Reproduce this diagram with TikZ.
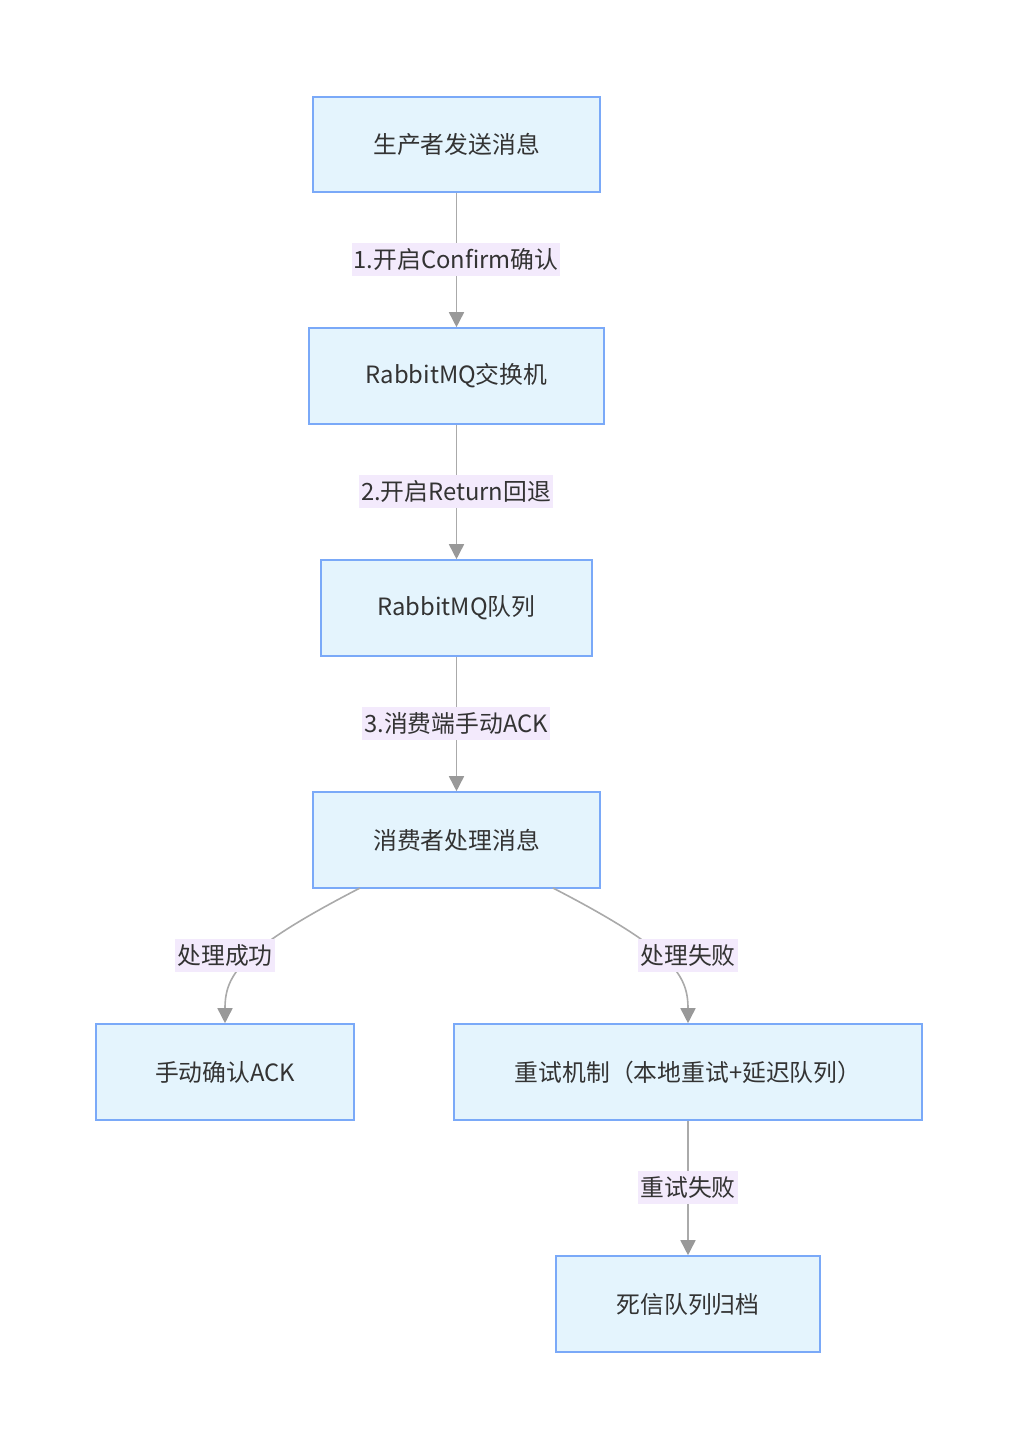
\documentclass[tikz,border=0pt]{standalone}
\usepackage{fontspec}
\setmainfont{Noto Sans CJK SC}
\usetikzlibrary{arrows.meta}
\definecolor{nodefill}{HTML}{E4F4FD}
\definecolor{nodeline}{HTML}{7AA9F8}
\definecolor{lblfill}{HTML}{F3EAFC}
\definecolor{edgec}{HTML}{AAAAAA}
\definecolor{tipc}{HTML}{999999}
\definecolor{txt}{HTML}{333333}
\tikzset{
  box/.style={draw=nodeline, line width=1.6pt, fill=nodefill, text=txt, minimum height=96pt, inner sep=0pt, font=\fontsize{23.8}{28}\selectfont},
  lbl/.style={fill=lblfill, text=txt, minimum height=33pt, inner xsep=2pt, inner ysep=0pt, font=\fontsize{23.8}{28}\selectfont},
  edge/.style={draw=edgec, line width=1.6pt, -{Triangle[length=15pt,width=15pt,fill=tipc,color=tipc]}},
}
\begin{document}
\begin{tikzpicture}[x=1pt,y=-1pt]
\useasboundingbox (0,0) rectangle (1018,1448);
\node[box, minimum width=287pt, minimum height=95pt] (n1) at (456.5,144.5) {生产者发送消息};
\node[box, minimum width=295pt] (n2) at (456.5,376) {RabbitMQ交换机};
\node[box, minimum width=271pt] (n3) at (456.5,608) {RabbitMQ队列};
\node[box, minimum width=287pt] (n4) at (456.5,840) {消费者处理消息};
\node[box, minimum width=258pt] (n5) at (225,1072) {手动确认ACK};
\node[box, minimum width=468pt] (n6) at (688,1072) {重试机制（本地重试+延迟队列）};
\node[box, minimum width=264pt] (n7) at (688,1304) {死信队列归档};
\coordinate (s5) at (360,888);
\coordinate (s6) at (553,888);
\draw[edge] (n1.south) -- (n2.north);
\draw[edge] (n2.south) -- (n3.north);
\draw[edge] (n3.south) -- (n4.north);
\draw[edge] (s5) .. controls (240,950) and (225,975) .. (n5.north);
\draw[edge] (s6) .. controls (673,950) and (688,975) .. (n6.north);
\draw[edge] (n6.south) -- (n7.north);
\node[lbl] (l1) at (456,259.5) {1.开启Confirm确认};
\node[lbl] (l2) at (456,491.5) {2.开启Return回退};
\node[lbl] (l3) at (456,723.5) {3.消费端手动ACK};
\node[lbl] (l4) at (225,955.5) {处理成功};
\node[lbl] (l5) at (688,955.5) {处理失败};
\node[lbl] (l6) at (688,1187.5) {重试失败};
\end{tikzpicture}
\end{document}
